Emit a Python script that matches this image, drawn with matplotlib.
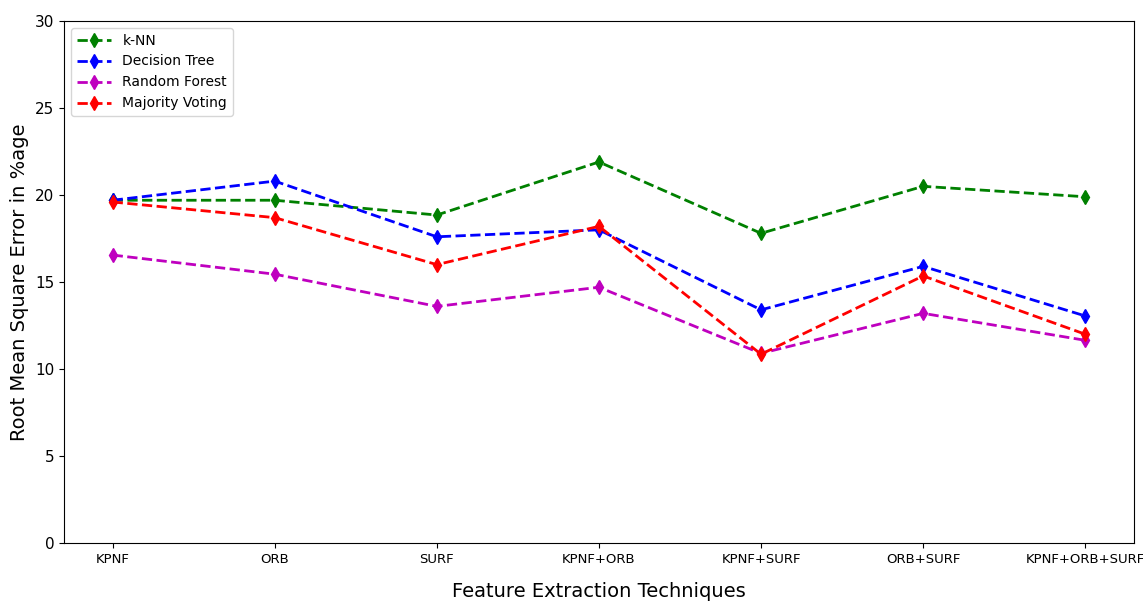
import matplotlib
matplotlib.use("Agg")
import matplotlib.pyplot as plt

techniques = ["KPNF", "ORB", "SURF", "KPNF+ORB", "KPNF+SURF", "ORB+SURF", "KPNF+ORB+SURF"]
knn = [19.7, 19.7, 18.85, 21.9, 17.8, 20.5, 19.9]
decision_tree = [19.7, 20.8, 17.6, 18.0, 13.4, 15.9, 13.05]
random_forest = [16.55, 15.45, 13.6, 14.7, 10.9, 13.2, 11.65]
majority_voting = [19.6, 18.7, 16.0, 18.2, 10.85, 15.35, 12.0]

fig = plt.figure(figsize=(11.43, 6.01), dpi=100)
ax = fig.add_axes([0.056, 0.0965, 0.936, 0.8685])

x = range(len(techniques))
ax.plot(x, knn, 'g--d', lw=2, ms=7, label='k-NN')
ax.plot(x, decision_tree, 'b--d', lw=2, ms=7, label='Decision Tree')
ax.plot(x, random_forest, 'm--d', lw=2, ms=7, label='Random Forest')
ax.plot(x, majority_voting, 'r--d', lw=2, ms=7, label='Majority Voting')

ax.set_xticks(list(x))
ax.set_xticklabels(techniques, fontsize=9.5)
ax.set_ylim(0, 30)
ax.tick_params(axis='y', labelsize=11)
ax.set_xlabel("Feature Extraction Techniques", fontsize=14, labelpad=12)
ax.set_ylabel("Root Mean Square Error in %age", fontsize=14)
ax.legend(loc='upper left', fontsize=10, handlelength=2.5)

fig.savefig('out.png', dpi=100)
